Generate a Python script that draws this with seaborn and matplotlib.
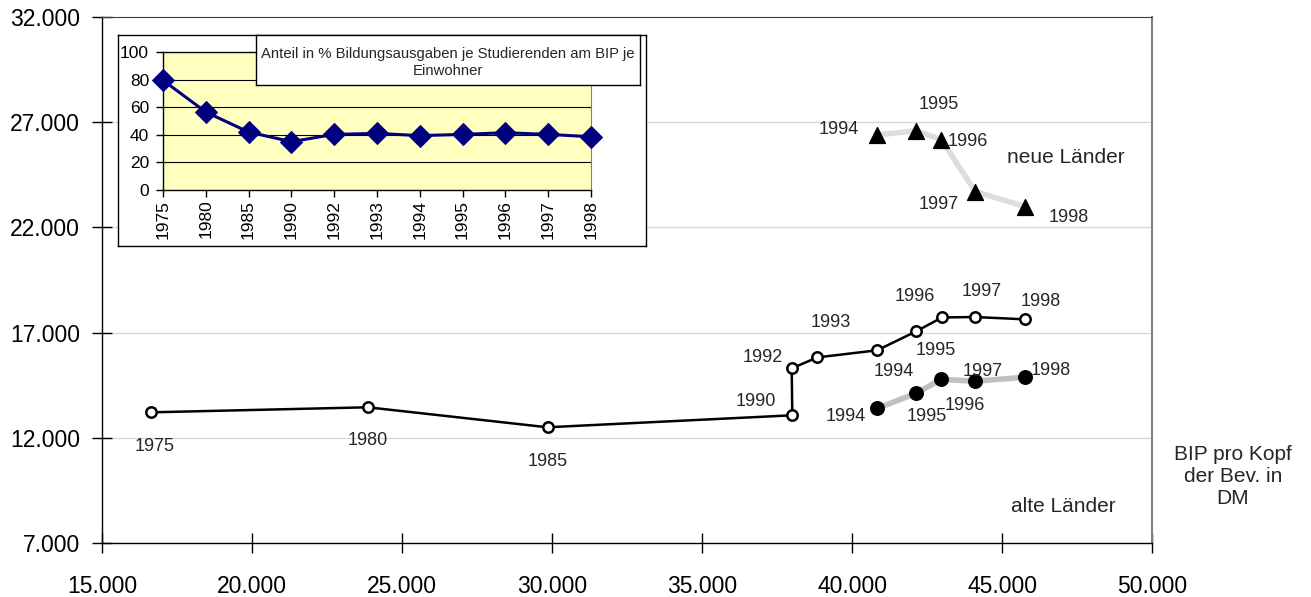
import numpy as np
import matplotlib
matplotlib.use("Agg")
import matplotlib.pyplot as plt
from matplotlib.ticker import FuncFormatter
import seaborn as sns

# --- data ---
# alte Laender: BIP pro Kopf (x) vs. Bildungsausgaben je Studierenden (y)
alt_years = ["1975", "1980", "1985", "1990", "1992", "1993", "1994", "1995", "1996", "1997", "1998"]
alt_bip = [16630, 23860, 29850, 38010, 37990, 38840, 40840, 42140, 43000, 44110, 45770]
alt_ausg = [13210, 13450, 12500, 13070, 15300, 15820, 16160, 17060, 17720, 17740, 17630]

# zweite Reihe (gefuellte Kreise)
mid_years = ["1994", "1995", "1996", "1997", "1998"]
mid_bip = [40840, 42140, 42980, 44110, 45770]
mid_ausg = [13400, 14120, 14780, 14690, 14880]

# neue Laender (Dreiecke)
neu_years = ["1994", "1995", "1996", "1997", "1998"]
neu_bip = [40840, 42140, 42980, 44110, 45770]
neu_ausg = [26400, 26590, 26170, 23700, 22990]

# inset: Anteil in %
inset_years = ["1975", "1980", "1985", "1990", "1992", "1993", "1994", "1995", "1996", "1997", "1998"]
inset_anteil = [79.5, 56.5, 42, 35, 40.3, 41, 39.4, 40.3, 41.5, 40.3, 38.6]

y_ticks = [7000, 12000, 17000, 22000, 27000, 32000]
x_ticks = [15000, 20000, 25000, 30000, 35000, 40000, 45000, 50000]

# label offsets in pixels (dx, dy)
alt_off = [(4, -34), (0, -33), (0, -34), (-36, 14), (-29, 11), (14, 35),
           (17, -21), (20, -19), (-27, 21), (6, 26), (16, 18)]
mid_off = [(-31, -8), (11, -23), (23, -26), (7, 10), (26, 7)]
neu_off = [(-38, 5), (23, 26), (26, -2), (-37, -13), (44, -11)]

sns.set_style("white")
plt.rcParams['font.family'] = ['Liberation Sans', 'DejaVu Sans']

W, H = 1311, 597


def de_fmt(v, pos):
    return f"{v:,.0f}".replace(",", ".")


def px_rect(x0, y0, x1, y1):
    # pixel box (top-left origin) -> figure fraction [l, b, w, h]
    return [x0 / W, 1 - y1 / H, (x1 - x0) / W, (y1 - y0) / H]


fig = plt.figure(figsize=(W / 100, H / 100), dpi=100)
ax = fig.add_axes(px_rect(102, 17, 1152, 543))

# horizontal grid
for yv in y_ticks[1:-1]:
    ax.axhline(yv, color="#d9d9d9", lw=1, zorder=0)

sns.lineplot(x=neu_bip, y=neu_ausg, sort=False, estimator=None, ax=ax,
             color="#dddddd", lw=4, zorder=2)
ax.scatter(neu_bip, neu_ausg, marker="^", s=130, color="black", zorder=3)

sns.lineplot(x=mid_bip, y=mid_ausg, sort=False, estimator=None, ax=ax,
             color="#c0c0c0", lw=4, zorder=2)
ax.scatter(mid_bip, mid_ausg, marker="o", s=95, color="black", zorder=3)

sns.lineplot(x=alt_bip, y=alt_ausg, sort=False, estimator=None, ax=ax,
             color="black", lw=1.8, zorder=4, marker="o", markersize=7.5,
             markerfacecolor="white", markeredgecolor="black", markeredgewidth=1.8)

for xs, ys, labs, offs in [(alt_bip, alt_ausg, alt_years, alt_off),
                           (mid_bip, mid_ausg, mid_years, mid_off),
                           (neu_bip, neu_ausg, neu_years, neu_off)]:
    for x, y, lab, (dx, dy) in zip(xs, ys, labs, offs):
        ax.annotate(lab, (x, y), xytext=(dx, dy), textcoords="offset pixels",
                    ha="center", va="center", fontsize=13, zorder=5)

ax.set_xlim(15000, 50000)
ax.set_ylim(7000, 32000)
ax.set_xticks(x_ticks)
ax.set_yticks(y_ticks)
ax.xaxis.set_major_formatter(FuncFormatter(de_fmt))
ax.yaxis.set_major_formatter(FuncFormatter(de_fmt))
ax.tick_params(axis="both", direction="inout", length=14, width=1, labelsize=16.5,
               colors="black", bottom=True, left=True)
ax.tick_params(axis="x", pad=16)
ax.tick_params(axis="y", pad=9)
for side in ["left", "bottom"]:
    ax.spines[side].set_color("black")
    ax.spines[side].set_linewidth(1)
ax.spines["top"].set_color("#404040")
ax.spines["right"].set_color("#808080")
ax.spines["right"].set_linewidth(1.5)

fig.text(1066 / W, 1 - 157 / H, "neue Länder", fontsize=15, ha="center", va="center")
fig.text(1063 / W, 1 - 507 / H, "alte Länder", fontsize=15, ha="center", va="center")
fig.text(1233 / W, 1 - 477 / H, "BIP pro Kopf\nder Bev. in\nDM", fontsize=15,
         ha="center", va="center", linespacing=1.2)

# --- inset ---
box = fig.add_axes(px_rect(118, 35, 646, 246))
box.set_xticks([])
box.set_yticks([])
box.set_facecolor("white")
for s in box.spines.values():
    s.set_color("black")
    s.set_linewidth(1)
box.set_zorder(5)

ins = fig.add_axes(px_rect(163, 52, 591, 190))
ins.set_zorder(6)
ins.set_facecolor("#ffffc0")
pos = np.arange(len(inset_years))
for yv in [20, 40, 60, 80]:
    ins.axhline(yv, color="black", lw=0.8, zorder=0)
sns.lineplot(x=pos, y=inset_anteil, ax=ins, color="#000080", lw=2.2,
             marker="D", markersize=11, markeredgecolor="#000080", zorder=3, clip_on=False)
ins.set_xlim(0, len(inset_years) - 1)
ins.set_ylim(0, 100)
ins.set_xticks(pos)
ins.set_xticklabels(inset_years, rotation=90)
ins.set_yticks(range(0, 101, 20))
ins.tick_params(axis="both", direction="out", length=5, width=1, labelsize=12.5,
                colors="black", bottom=True, left=True)
ins.tick_params(axis="x", pad=2)
ins.tick_params(axis="y", pad=5)
for side in ["left", "bottom", "top"]:
    ins.spines[side].set_color("black")
    ins.spines[side].set_linewidth(1)
ins.spines["right"].set_color("#808080")

tbox = fig.add_axes(px_rect(256, 35, 640, 85))
tbox.set_zorder(7)
tbox.set_xticks([])
tbox.set_yticks([])
tbox.set_facecolor("white")
for s in tbox.spines.values():
    s.set_color("black")
    s.set_linewidth(1)
tbox.text(0.5, 0.45, "Anteil in % Bildungsausgaben je Studierenden am BIP je\nEinwohner",
          ha="center", va="center", fontsize=10.7, transform=tbox.transAxes, linespacing=1.3)

fig.savefig("out.png", dpi=100)
